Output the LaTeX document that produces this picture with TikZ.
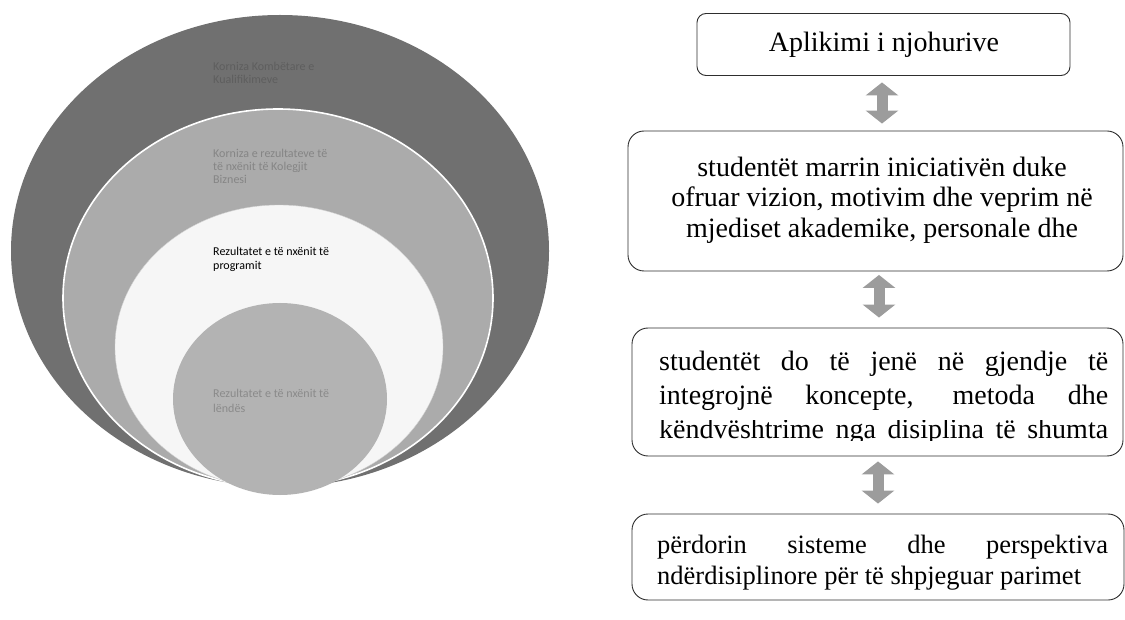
\documentclass[tikz,border=0pt]{standalone}
\usepackage{fontspec}
\setmainfont{Liberation Serif}
\newfontfamily\calib{Carlito}
\usetikzlibrary{arrows.meta}
\definecolor{ringA}{HTML}{707070}
\definecolor{ringB}{HTML}{ABABAB}
\definecolor{ringC}{HTML}{F6F6F6}
\definecolor{ringD}{HTML}{B3B3B3}
\definecolor{txtA}{HTML}{5E5E5E}
\definecolor{txtB}{HTML}{858585}
\definecolor{txtD}{HTML}{8A8A8A}
\definecolor{arrowgray}{HTML}{9C9C9C}
\definecolor{edgegray}{HTML}{2E2E2E}
\begin{document}
\begin{tikzpicture}[x=1pt,y=-1pt,
  ringlabel/.style={anchor=base west, inner sep=0pt, font=\calib\fontsize{12}{14}\selectfont},
  flowbox/.style={draw=edgegray, line width=0.9pt, rounded corners=16pt, inner sep=0pt},
  topbox/.style={flowbox, rounded corners=9pt},
  boxline/.style={anchor=base, inner sep=0pt, font=\fontsize{28}{33}\selectfont},
  justline/.style={anchor=base west, inner sep=0pt, font=\fontsize{28}{33}\selectfont},
  smallline/.style={anchor=base west, inner sep=0pt, font=\fontsize{26.5}{31}\selectfont},
  dblarrow/.style={draw=arrowgray, line width=11pt,
    {Triangle[width=32pt,length=13pt]}-{Triangle[width=32pt,length=13pt]}}
]
\useasboundingbox[fill=white] (0,0) rectangle (1125,620);

% ---- nested circles ----
\fill[ringA] (280,251) ellipse [x radius=269pt, y radius=236pt];
\filldraw[fill=ringB, draw=white, line width=1.6pt] (278,298) ellipse [x radius=215pt, y radius=189pt];
\filldraw[fill=ringC, draw=ringC!85!black, line width=0.4pt] (279,347) ellipse [x radius=164pt, y radius=142pt];
\fill[ringD] (280,399) ellipse [x radius=107pt, y radius=96pt];

\node[ringlabel, text=txtA] (la1) at (213,71) {Korniza Kombëtare e};
\node[ringlabel, text=txtA] (la2) at (213,84) {Kualifikimeve};
\node[ringlabel, text=txtB] (lb1) at (213,158) {Korniza e rezultateve të};
\node[ringlabel, text=txtB] (lb2) at (213,171) {të nxënit të Kolegjit};
\node[ringlabel, text=txtB] (lb3) at (213,184) {Biznesi};
\node[ringlabel, text=black] (lc1) at (213,256) {Rezultatet e të nxënit të};
\node[ringlabel, text=black] (lc2) at (213,270) {programit};
\node[ringlabel, text=txtD] (ld1) at (213,398) {Rezultatet e të nxënit të};
\node[ringlabel, text=txtD] (ld2) at (213,412) {lëndës};

% ---- flow boxes ----
\node[topbox, minimum width=373pt, minimum height=62pt] (b1) at (883.5,44.5) {};
\node[flowbox, minimum width=495pt, minimum height=140pt] (b2) at (875.5,201) {};
\node[flowbox, minimum width=491pt, minimum height=128pt] (b3) at (877.5,392) {};
\node[flowbox, minimum width=492pt, minimum height=86pt] (b4) at (878,557) {};

\node[boxline] (t1) at (884,51.5) {Aplikimi i njohurive};

\node[boxline] (t21) at (882,176.5) {studentët marrin iniciativën duke};
\node[boxline] (t22) at (882,206.6) {ofruar vizion, motivim dhe veprim në};
\node[boxline] (t23) at (882,237.6) {mjediset akademike, personale dhe};

\node[justline] (t31) at (659,370.5) {\makebox[449pt][s]{studentët do të jenë në gjendje të}};
\node[justline] (t32) at (659,404.5) {\makebox[449pt][s]{integrojnë koncepte, metoda dhe}};
\begin{scope}
  \clip (600,420) rectangle (1125,440.5);
  \node[justline] (t33) at (659,438.4) {\makebox[449pt][s]{këndvështrime nga disiplina të shumta}};
\end{scope}

\node[smallline] (t41) at (657,553) {\makebox[451pt][s]{përdorin sisteme dhe perspektiva}};
\node[smallline] (t42) at (657,584) {ndërdisiplinore për të shpjeguar parimet};

% ---- double arrows ----
\draw[dblarrow, shorten <=6.5pt, shorten >=7pt] ([xshift=-1.5pt]b1.south) -- ([xshift=-1.5pt]b1.south |- b2.north);
\draw[dblarrow, shorten <=3.5pt, shorten >=10pt] ([xshift=3.5pt]b2.south) -- ([xshift=3.5pt]b2.south |- b3.north);
\draw[dblarrow, shorten <=5pt, shorten >=10pt] ([xshift=0.5pt]b3.south) -- ([xshift=0.5pt]b3.south |- b4.north);
\end{tikzpicture}
\end{document}
